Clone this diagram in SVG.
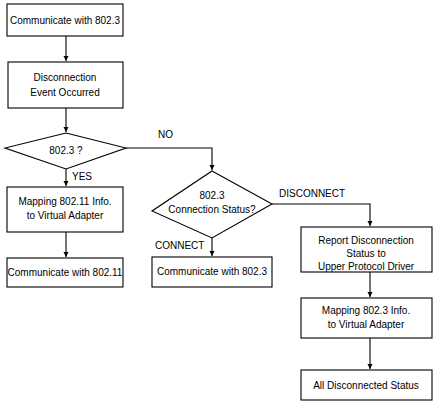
<svg xmlns="http://www.w3.org/2000/svg" width="435" height="408" viewBox="0 0 435 408">
<style>
.b{fill:#fff;stroke:#000;stroke-width:1.1}
.t{font-family:"Liberation Sans",Arial,sans-serif;font-size:10px;fill:#000;text-anchor:middle}
.l{font-family:"Liberation Sans",Arial,sans-serif;font-size:10px;fill:#000}
.c{fill:none;stroke:#000;stroke-width:1.1}
</style>
<defs>
<marker id="a" markerWidth="6" markerHeight="6" refX="5" refY="3" orient="auto" markerUnits="userSpaceOnUse">
<path d="M0,0.5 L5,3 L0,5.5 Z" fill="#000"/>
</marker>
</defs>
<rect width="435" height="408" fill="#fff"/>
<g id="connectors">
<path class="c" d="M66,36 V61" marker-end="url(#a)"/>
<path class="c" d="M66,108 V132" marker-end="url(#a)"/>
<path class="c" d="M66,169 V186" marker-end="url(#a)"/>
<path class="c" d="M66,232 V257" marker-end="url(#a)"/>
<path class="c" d="M126,148 H212 V170" marker-end="url(#a)"/>
<path class="c" d="M212,238 V256" marker-end="url(#a)"/>
<path class="c" d="M272,204 H370 V226" marker-end="url(#a)"/>
<path class="c" d="M370,272 V297" marker-end="url(#a)"/>
<path class="c" d="M370,338 V369" marker-end="url(#a)"/>
</g>
<g id="n1"><rect class="b" x="7" y="4" width="116" height="32"/><text class="t" x="65" y="23.5">Communicate with 802.3</text></g>
<g id="n2"><rect class="b" x="8" y="62" width="115" height="46"/><text class="t" x="65" y="81">Disconnection</text><text class="t" x="65" y="96">Event Occurred</text></g>
<g id="d1"><path class="b" d="M66,133 L126,148 L66,169 L5,148 Z"/><text class="t" x="66" y="154">802.3 ?</text></g>
<g id="n3"><rect class="b" x="7" y="187" width="116" height="45"/><text class="t" x="65" y="205">Mapping 802.11 Info.</text><text class="t" x="65" y="219">to Virtual Adapter</text></g>
<g id="n4"><rect class="b" x="7" y="258" width="116" height="29"/><text class="t" x="65" y="276">Communicate with 802.11</text></g>
<g id="d2"><path class="b" d="M212,171 L272,204 L212,238 L152,211 Z"/><text class="t" x="212" y="199">802.3</text><text class="t" x="212" y="213">Connection Status?</text></g>
<g id="n5"><rect class="b" x="152" y="257" width="120" height="30"/><text class="t" x="212" y="275">Communicate with 802.3</text></g>
<g id="n6"><rect class="b" x="301" y="227" width="131" height="45"/><text class="t" x="366" y="244">Report Disconnection</text><text class="t" x="366" y="257">Status to</text><text class="t" x="366" y="270">Upper Protocol Driver</text></g>
<g id="n7"><rect class="b" x="301" y="298" width="131" height="40"/><text class="t" x="366" y="314">Mapping 802.3 Info.</text><text class="t" x="366" y="328">to Virtual Adapter</text></g>
<g id="n8"><rect class="b" x="301" y="370" width="131" height="30"/><text class="t" x="366" y="389">All Disconnected Status</text></g>
<g id="labels">
<text class="l" x="158" y="138">NO</text>
<text class="l" x="72" y="180">YES</text>
<text class="l" x="155" y="249">CONNECT</text>
<text class="l" x="279" y="197">DISCONNECT</text>
</g>
</svg>
